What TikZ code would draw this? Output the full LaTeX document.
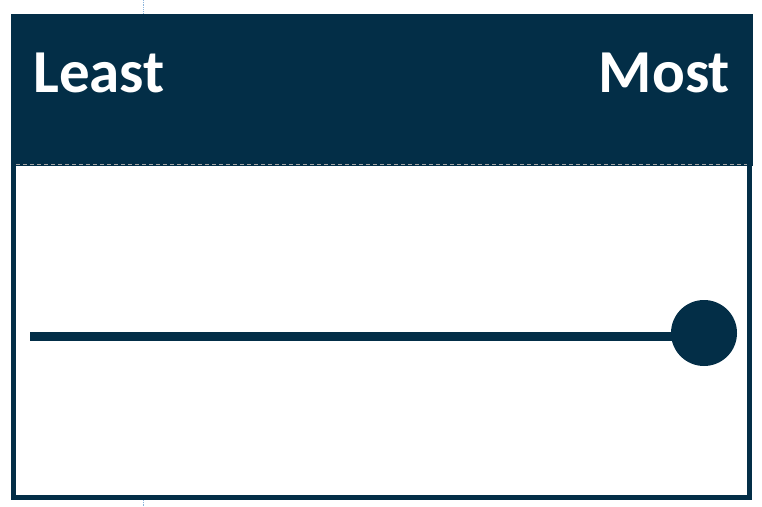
\documentclass[tikz,border=0pt]{standalone}
\usepackage{fontspec}
\setmainfont{Carlito}
\usepackage{tikz}
\usetikzlibrary{calc}
\definecolor{navy}{RGB}{3,46,71}
\definecolor{guide}{RGB}{140,180,220}

\begin{document}
\begin{tikzpicture}[x=1pt,y=-1pt,
    label/.style={text=white, font=\fontsize{61}{61}\selectfont\bfseries, inner sep=0pt}]
                    \useasboundingbox (0,0) rectangle (762,506);
                    \draw [guide, densely dotted, line width=0.8pt] (143,0) -- (143,14);
                    \draw [guide, densely dotted, line width=0.8pt] (143,500) -- (143,506);
                    \filldraw [navy] (11,14) rectangle (752,165);
                    \draw [navy, line width=5pt] (13.5,16.5) rectangle (749.5,497.5);
                    \draw [gray!70, line width=1pt, dash pattern=on 4pt off 3pt] (16,164.5) -- (747,164.5);
                    \node [label, anchor=base west] (least) at (33,92) {Least};
                    \node [label, anchor=base east] (most) at (730,92) {Most};
                    \coordinate (start) at (30,336.5);
                    \node [circle, fill=navy, minimum size=66pt, inner sep=0pt] (dot) at (704,333) {};
                    \draw [navy, line width=9pt] (start) -- (start -| dot.center);
                \end{tikzpicture}
\end{document}
